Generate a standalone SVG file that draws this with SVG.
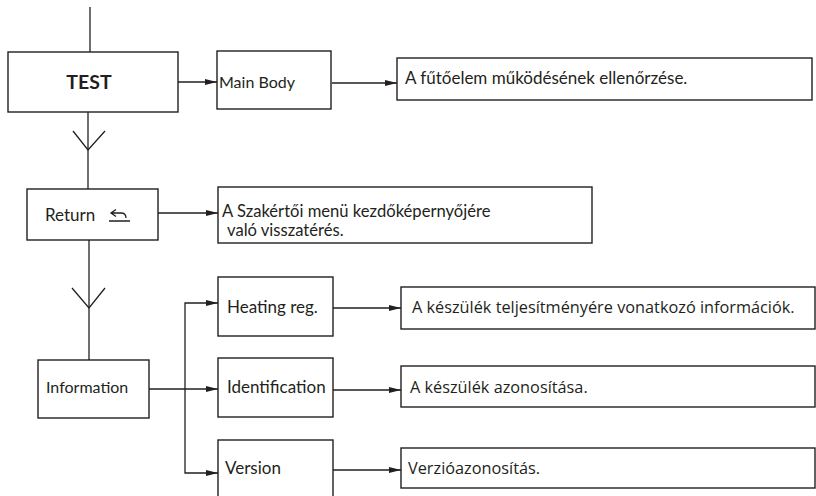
<svg xmlns="http://www.w3.org/2000/svg" width="816" height="496" viewBox="0 0 816 496">
<defs>
<marker id="ah" viewBox="0 0 12 6" refX="12" refY="3" markerWidth="12" markerHeight="6" markerUnits="userSpaceOnUse" orient="auto">
<path d="M0,0 L12,3 L0,6 Z" fill="#231f20"/>
</marker>
</defs>
<style>
rect{fill:#fff;stroke:#231f20;stroke-width:1.4}
.c{fill:none;stroke:#231f20;stroke-width:1.3}
.a{marker-end:url(#ah)}
text{font-family:Lato,"Open Sans",sans-serif;font-size:17px;fill:#231f20}
.s{font-size:16px}
.t{font-size:16.6px}
.m{font-family:"Open Sans",sans-serif;font-size:16.3px}
.b{font-weight:bold;font-size:19.5px}
</style>
<rect width="816" height="496" style="fill:#fff;stroke:none"/>
<g id="connectors">
<path class="c" d="M90,7 V52"/>
<path class="c" d="M88,112 V189"/>
<path class="c" d="M73,131 L88,150 L105,131"/>
<path class="c a" d="M178,82 H217"/>
<path class="c a" d="M332,83 H397"/>
<path class="c a" d="M158,213 H218"/>
<path class="c" d="M89,240 V360"/>
<path class="c" d="M72,288 L89,308 L105,288"/>
<path class="c a" d="M149,389 H218"/>
<path class="c a" d="M185,389 V303 H218"/>
<path class="c a" d="M185,389 V473 H218"/>
<path class="c a" d="M333,308 H401"/>
<path class="c a" d="M333,390 H401"/>
<path class="c a" d="M333,470 H401"/>
</g>
<g id="test"><rect x="8" y="52" width="170" height="60"/><text class="b" x="89" y="89" text-anchor="middle">TEST</text></g>
<g id="mainbody"><rect x="217" y="51" width="114" height="58"/><text class="s" x="219" y="88">Main Body</text></g>
<g id="desc-main"><rect x="397" y="58" width="415" height="42"/><text x="405" y="84">A fűtőelem működésének ellenőrzése.</text></g>
<g id="return"><rect x="27" y="189" width="131" height="51"/><text x="45" y="221">Return</text>
<path class="c" d="M109,221 H130 M116,209.5 L111,213 L116,216.5 M111,213 H121 Q126,213 126,218"/></g>
<g id="desc-return"><rect x="218" y="187" width="374" height="56"/><text class="t" x="222" y="216.5">A Szakértői menü kezdőképernyőjére</text><text class="t" x="227" y="236">való visszatérés.</text></g>
<g id="information"><rect x="38" y="360" width="111" height="58"/><text class="s" x="46" y="393">Information</text></g>
<g id="heating"><rect x="218" y="277" width="115" height="59"/><text x="227" y="313">Heating reg.</text></g>
<g id="identification"><rect x="218" y="358" width="115" height="59"/><text x="227" y="393">Identification</text></g>
<g id="version"><rect x="218" y="440" width="115" height="60"/><text x="225" y="474">Version</text></g>
<g id="desc-heating"><rect x="401" y="287" width="414" height="42"/><text class="m" x="412" y="313">A készülék teljesítményére vonatkozó információk.</text></g>
<g id="desc-ident"><rect x="401" y="366" width="414" height="41"/><text class="m" x="410" y="393">A készülék azonosítása.</text></g>
<g id="desc-version"><rect x="401" y="448" width="414" height="40"/><text class="m" x="408" y="474">Verzióazonosítás.</text></g>
</svg>
